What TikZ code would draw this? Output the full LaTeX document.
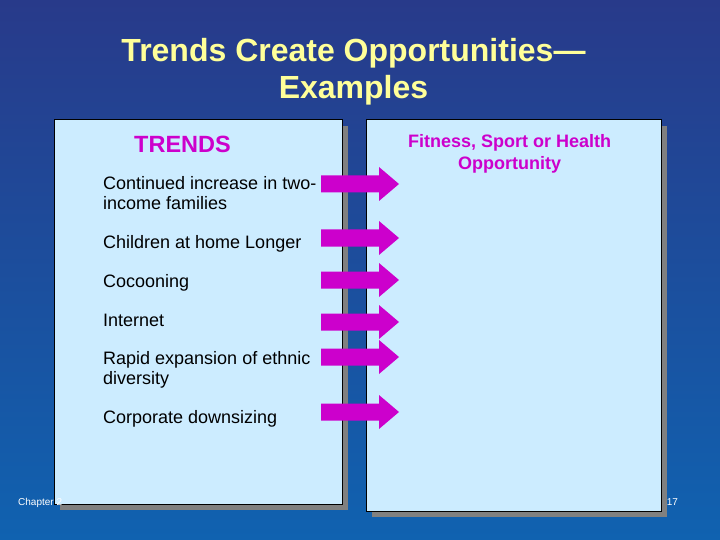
\documentclass[tikz,border=0pt]{standalone}
\usepackage{fontspec}
\setmainfont{Liberation Sans}
\definecolor{slidetop}{RGB}{40,58,138}
\definecolor{slidebot}{RGB}{16,98,176}
\definecolor{panel}{RGB}{204,236,255}
\definecolor{trendpurple}{RGB}{204,0,204}
\definecolor{titleyellow}{RGB}{255,255,153}
\begin{document}
\begin{tikzpicture}[x=1pt,y=-1pt,
  trend/.style={anchor=base west, align=left, inner sep=0pt, font=\fontsize{18}{20.5}\selectfont},
  head/.style={text=trendpurple, inner sep=0pt, font=\bfseries\fontsize{18}{22}\selectfont},
  footer/.style={text=white, anchor=base west, inner sep=0pt, font=\fontsize{10}{12}\selectfont},
  panelbox/.style={fill=panel, draw=black, line width=1pt}]
\useasboundingbox (0,0) rectangle (720,540);
\shade[top color=slidetop, bottom color=slidebot] (0,0) rectangle (720,540);
% title (base = last line)
\node (title) [anchor=base, align=center, inner sep=0pt, text=titleyellow,
  font=\bfseries\fontsize{32}{37}\selectfont] at (353.5,99) {Trends Create Opportunities---\\Examples};
% the two panels, with their shadows
\fill[gray] (60,126) rectangle (348,510);
\fill[gray] (372,126) rectangle (667,517);
\draw[panelbox] (54,120) rectangle (342,504);
\draw[panelbox] (366,120) rectangle (661,511);
% left panel
\node (trends) [head, anchor=base west, font=\bfseries\fontsize{23.5}{26}\selectfont] at (134,152.5) {TRENDS};
\node (trend1) [trend] at (103,209.5) {Continued increase in two-\\income families};
\node (trend2) [trend] at (103,248.6) {Children at home Longer};
\node (trend3) [trend] at (103,287.5) {Cocooning};
\node (trend4) [trend] at (103,326.4) {Internet};
\node (trend5) [trend] at (103,384.5) {Rapid expansion of ethnic\\diversity};
\node (trend6) [trend] at (103,423.6) {Corporate downsizing};
% right panel
\node (fitness) [head, anchor=base, align=center] at (509.6,169.4) {Fitness, Sport or Health\\Opportunity};
% block arrows
\foreach \y in {184,238,280,322,357,412}
  \fill[trendpurple] (321,\y-8.5) -- (379,\y-8.5) -- (379,\y-17) -- (399,\y)
    -- (379,\y+17) -- (379,\y+8.5) -- (321,\y+8.5) -- cycle;
% footer
\node (chapter) [footer] at (18,505) {Chapter 2};
\node (pagenum) [footer] at (666.7,505) {17};
\end{tikzpicture}
\end{document}
